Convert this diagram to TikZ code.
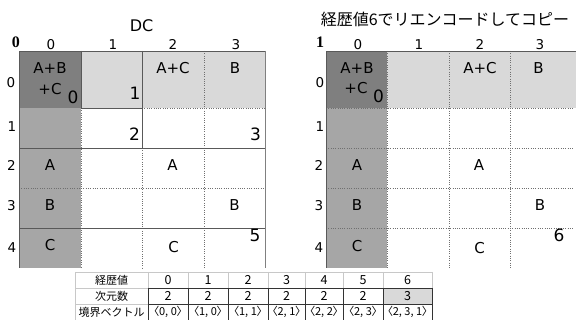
\documentclass[tikz,border=0pt]{standalone}
\usepackage{fontspec}
\setmainfont{DejaVu Sans}
\newfontfamily\jp{Noto Sans CJK JP}
\newfontfamily\jpp[RawFeature=+palt]{Noto Sans CJK JP}
\newfontfamily\bser{Liberation Serif}
\definecolor{darkcell}{HTML}{7F7F7F}
\definecolor{midcell}{HTML}{A6A6A6}
\definecolor{lightcell}{HTML}{D9D9D9}
\definecolor{linegray}{HTML}{595959}
\definecolor{dotgray}{HTML}{707070}
\definecolor{tablight}{HTML}{C8C8C8}
\definecolor{tabdark}{HTML}{333333}
\tikzset{
  lbl/.style={inner sep=0pt, font=\fontsize{15}{15}\selectfont},
  num/.style={inner sep=0pt, font=\fontsize{17}{17}\selectfont},
  hdr/.style={inner sep=0pt, font=\fontsize{13.5}{13.5}\selectfont},
  corner/.style={inner sep=0pt, font=\bser\bfseries\fontsize{16}{16}\selectfont},
  solidline/.style={draw=linegray, line width=0.9pt},
  edgeline/.style={draw=gray, line width=0.9pt},
  dotline/.style={draw=dotgray, line width=0.8pt, dash pattern=on 0.8pt off 1.5pt},
  tlight/.style={draw=tablight, line width=0.6pt},
  tdark/.style={draw=tabdark, line width=0.8pt},
  tcell/.style={inner sep=0pt, font=\jp\fontsize{11}{11}\selectfont},
  tdig/.style={inner sep=0pt, font=\jp\fontsize{12.5}{12.5}\selectfont},
  tvec/.style={inner sep=0pt, font=\jpp\fontsize{11}{11}\selectfont},
}
\begin{document}
\begin{tikzpicture}[x=1pt,y=-1pt]
\useasboundingbox[fill=white] (0,0) rectangle (578,320);
% ---------- left grid ----------
\fill[darkcell] (19,51) rectangle (81,108);
\fill[lightcell] (81,51) rectangle (265,108);
\fill[midcell] (19,108) rectangle (81,268);
\draw[dotline] (142,108) -- (265,108);
\draw[dotline] (19,188) -- (265,188);
\draw[dotline] (81,108) -- (81,268);
\draw[dotline] (142,148) -- (142,268);
\draw[dotline] (204,51) -- (204,268);
\draw[solidline] (19,268) -- (19,51) -- (265,51);
\draw[edgeline] (265,51) -- (265,268);
\draw[solidline] (81,51) -- (81,108) -- (142,108);
\draw[solidline] (142,51) -- (142,148);
\draw[solidline] (19,148) -- (265,148);
\draw[solidline] (19,228) -- (265,228);
% ---------- right grid ----------
\fill[darkcell] (326,51) rectangle (387,108);
\fill[lightcell] (387,51) rectangle (576,108);
\fill[midcell] (326,108) rectangle (387,268);
\foreach \yy in {108,148,188,228} \draw[dotline] (326,\yy) -- (574,\yy);
\foreach \xx in {387,449,510} \draw[dotline] (\xx,51) -- (\xx,268);
\draw[solidline] (326,268) -- (326,51) -- (576,51);
% ---------- titles ----------
\node[inner sep=0pt, font=\fontsize{16}{16}\selectfont] (titleL) at (141.5,26) {DC};
\node[inner sep=0pt, font=\jp\fontsize{16}{16}\selectfont] (titleR) at (445,19) {経歴値6でリエンコードしてコピー};
% ---------- left labels ----------
\node[corner] (cornerL) at (16,42.5) {0};
\node[hdr] (hL0) at (51,44.5) {0};
\node[hdr] (hL1) at (113,44.5) {1};
\node[hdr] (hL2) at (173,44.5) {2};
\node[hdr] (hL3) at (236,44.5) {3};
\node[hdr] (rL0) at (11,83) {0};
\node[hdr] (rL1) at (12,127) {1};
\node[hdr] (rL2) at (11.5,165) {2};
\node[hdr] (rL3) at (11.5,206) {3};
\node[hdr] (rL4) at (12,248) {4};
\node[lbl] (cL1) at (50,68) {A+B};
\node[lbl] (cL2) at (50,89) {+C};
\node[num] (nL0) at (73,97) {0};
\node[num] (nL1) at (135,93) {1};
\node[lbl] (cL3) at (173,68) {A+C};
\node[lbl] (cL4) at (235,68) {B};
\node[num] (nL2) at (134.5,134) {2};
\node[num] (nL3) at (255.5,134) {3};
\node[lbl] (cL5) at (50,165) {A};
\node[lbl] (cL6) at (172.5,165) {A};
\node[lbl] (cL7) at (50,205) {B};
\node[lbl] (cL8) at (234.5,205) {B};
\node[lbl] (cL9) at (50,245.5) {C};
\node[lbl] (cL10) at (173.5,247) {C};
\node[num] (nL5) at (255,235) {5};
% ---------- right labels ----------
\node[corner] (cornerR) at (320,42.5) {1};
\node[hdr] (hR0) at (358,44.5) {0};
\node[hdr] (hR1) at (419,44.5) {1};
\node[hdr] (hR2) at (480,44.5) {2};
\node[hdr] (hR3) at (540,44.5) {3};
\node[hdr] (rR0) at (320,83) {0};
\node[hdr] (rR1) at (320,127) {1};
\node[hdr] (rR2) at (319,165) {2};
\node[hdr] (rR3) at (319,206) {3};
\node[hdr] (rR4) at (319,248) {4};
\node[lbl] (cR1) at (357,68.5) {A+B};
\node[lbl] (cR2) at (356,88) {+C};
\node[num] (nR0) at (378.5,96) {0};
\node[lbl] (cR3) at (480,68.5) {A+C};
\node[lbl] (cR4) at (538.5,68.5) {B};
\node[lbl] (cR5) at (357,165) {A};
\node[lbl] (cR6) at (479,165) {A};
\node[lbl] (cR7) at (357,205.5) {B};
\node[lbl] (cR8) at (540,205.5) {B};
\node[lbl] (cR9) at (357,246.5) {C};
\node[lbl] (cR10) at (479.5,248) {C};
\node[num] (nR6) at (559,235) {6};
% ---------- table ----------
\fill[lightcell] (383,288) rectangle (432,304);
\draw[tlight] (75,272) -- (432,272);
\foreach \xx in {75,148,188,228,268,305,343,383,432} \draw[tlight] (\xx,272) -- (\xx,288);
\draw[tlight] (75,288) -- (148,288);
\draw[tlight] (75,304) -- (148,304);
\draw[tlight] (75,288) -- (75,320);
\draw[tdark] (148,288) -- (432,288);
\draw[tdark] (148,304) -- (432,304);
\foreach \xx in {148,188,228,268,305,343,383,432} \draw[tdark] (\xx,288) -- (\xx,320);
\node[tcell] (tk) at (111.5,280) {経歴値};
\node[tcell] (td) at (111.5,296) {次元数};
\node[tcell] (tb) at (111.5,312) {境界ベクトル};
\foreach \i/\cx/\d/\v in {0/168/2/{〈0, 0〉},1/208/2/{〈1, 0〉},2/248/2/{〈1, 1〉},3/286.5/2/{〈2, 1〉},4/324/2/{〈2, 2〉},5/363/2/{〈2, 3〉},6/407.5/3/{〈2, 3, 1〉}}{
  \node[tdig] (tk\i) at (\cx,280) {\i};
  \node[tdig] (td\i) at (\cx,296) {\d};
  \node[tvec] (tb\i) at (\cx,312) {\v};
}
\end{tikzpicture}
\end{document}
